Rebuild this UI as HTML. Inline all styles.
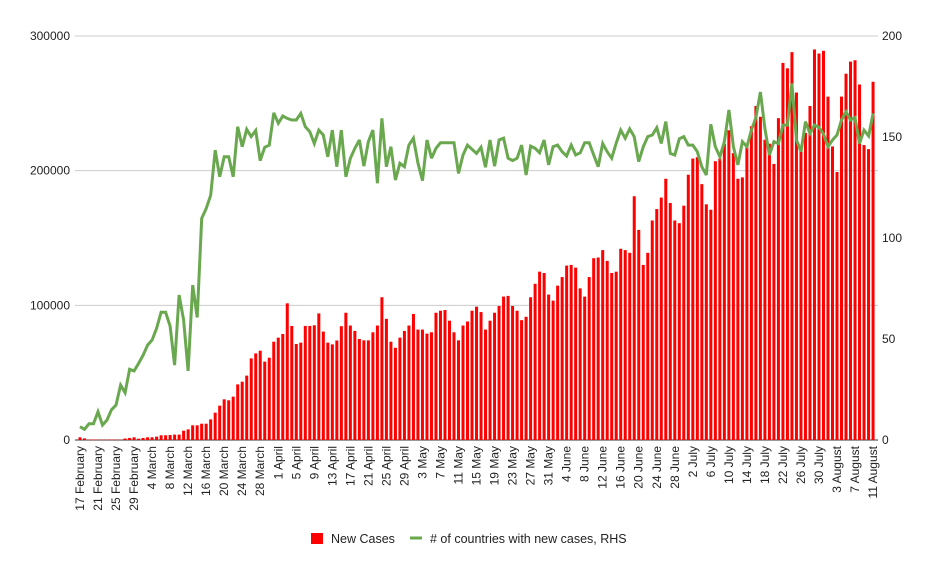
<!DOCTYPE html>
<html><head><meta charset="utf-8">
<style>
body{margin:0;background:#fff;}
svg{display:block;font-family:"Liberation Sans",Arial,sans-serif;}
</style></head>
<body>
<svg id="chart" width="932" height="574" viewBox="0 0 932 574" xmlns="http://www.w3.org/2000/svg">
<g id="grid"></g>
<g id="bars"></g>
<g id="line"></g>
<g id="axes"></g>
<g>
  <rect x="311" y="533" width="12" height="11" fill="#ff0000"/>
  <text x="331" y="543" font-size="12.5" fill="#222">New Cases</text>
  <rect x="410" y="536.5" width="12" height="3" fill="#6aa84f"/>
  <text x="430" y="543" font-size="12.5" fill="#222"># of countries with new cases, RHS</text>
</g>
</svg>
<script>
const startDate = [2020, 1, 17];
const cases = [2,1.2,0.3,0.3,0.3,0.3,0.3,0.3,0.3,0.3,1.1,1.5,2,
1,1.5,2,2,2.5,3.5,3.5,3.7,4,4,6.9,7.9,10.9,10.9,12.1,12.1,15.3,20.3,25.5,30.2,29.5,32.2,41.3,43.3,47.8,60.6,64.3,66.3,58.2,61.1,73,
76,78.7,101.5,84.7,71.3,72.3,84.7,84.7,85.2,94,80.5,72.3,71,73.9,84.5,94.5,85,81,75,74,74,80,85,106,90,73,68.5,76,81,85,
93.6,82,82,79,80,94.5,96,96.5,88.6,80,74,85,88,96,99,95,82,88.6,94.5,99.5,106.5,107,99.5,96,89,91.5,106,116,125,124,108,
103.5,114.6,121,129.5,130,128,112.6,106.5,121,135,135.5,141,133,124,125,142,141,139,181,156,130,139,163,171.5,180,194,176,163,161,174,
197,209,210,190,175,171,207,209,220,230,213,194,195,218,233,248,240,223,220,205,239,280,276,288,258,218,228,248,290,287,289,
255,218,199,255,272,281,282,264,219,216,266];
const countries = [6.6,5.3,8,8,14,7.4,9.9,15,17.3,27.2,23.4,35,34.2,37.9,42,47,49.5,55.3,63.2,63.2,56.4,37.1,71.8,59.4,34.2,76.7,60.7,109.7,114.6,121.2,143.5,130.3,140.2,140.2,130.3,155.1,145.2,153.8,150.2,153.2,138.3,144.9,146,162,156.8,160.4,159.2,158.4,158.4,161.7,155.1,152.6,146.8,153.4,151,140.2,153.4,135.3,153.4,130.3,
139.5,144.4,148.5,135.6,147.7,153.4,127.1,159.2,135.3,145.2,128.7,137,135.3,146,149.4,137,128.4,148.5,139.5,144.4,147.2,147.2,147.2,147.2,132,141.1,146,143.9,141.9,144.9,135,148.5,135.6,148.5,149.4,139.5,138.3,139.5,146,131.2,145.5,144.4,142.2,148.5,136.2,145.2,146,142.7,140.6,146,141.1,142.2,147.2,147.2,141.1,135.3,146.8,142.7,139.5,147,
153.4,149.4,154,150.2,137.8,145.2,150.2,151,154.6,146.8,157.6,141.9,141.1,149.1,150.2,146,146,142.7,135.3,131.2,156.3,145.2,140.2,147.7,163.4,145.2,136.2,147.7,145.2,153.4,159.6,172.3,154.2,141.1,147.7,146.8,155.9,155.9,176.5,148.5,142.7,157.6,151.8,155.9,154.8,151.5,145.2,148.5,151,158.4,162.5,158.4,159.6,146.8,153.4,150.5,161.7];
const leftTicks = [0,100000,200000,300000];
const rightTicks = [0,50,100,150,200];
const monthNames = ["January","February","March","April","May","June","July","August"];

const NS="http://www.w3.org/2000/svg";
const X0=80, DX=4.506, Y0=440, YT=36;
const xPos=i=>X0+DX*i;
const yL=v=>Y0-(v/300000)*(Y0-YT);
const yR=v=>Y0-(v/200)*(Y0-YT);
function mk(tag,attrs,parent){const e=document.createElementNS(NS,tag);for(const k in attrs)e.setAttribute(k,attrs[k]);parent.appendChild(e);return e;}
const grid=document.getElementById('grid'), bars=document.getElementById('bars'), line=document.getElementById('line'), axes=document.getElementById('axes');

leftTicks.forEach(t=>{
  const y=yL(t);
  const g=mk('line',{x1:75,x2:878,y1:y,y2:y,stroke:t===0?'#333':'#ccc','stroke-width':1},grid);
  
  
  const tx=mk('text',{x:70,y:y+4,'text-anchor':'end','font-size':12,fill:'#222'},axes);
  tx.textContent=String(t);
  
  
});
rightTicks.forEach(t=>{
  const y=yR(t);
  const tx=mk('text',{x:882,y:y+4,'text-anchor':'start','font-size':12,fill:'#222'},axes);
  tx.textContent=String(t);
  
  
});

cases.forEach((v,i)=>{
  const val=v*1000, y=yL(val);
  const r=mk('rect',{x:xPos(i)-1.5,y:y,width:3,height:Math.max(Y0-y,0.5),fill:'#ff0000'},bars);
  
  
});

const pts=countries.map((v,i)=>xPos(i).toFixed(1)+','+yR(v).toFixed(1)).join(' ');
const pl=mk('polyline',{points:pts,fill:'none',stroke:'#6aa84f','stroke-width':3,'stroke-linejoin':'miter','stroke-miterlimit':3},line);



for(let i=0;i<cases.length;i+=4){
  const d=new Date(startDate[0],startDate[1],startDate[2]+i);
  const label=d.getDate()+' '+monthNames[d.getMonth()];
  const x=xPos(i)+4;
  const tx=mk('text',{x:x,y:446,transform:'rotate(-90 '+x+' 446)','text-anchor':'end','font-size':12,fill:'#222'},axes);
  tx.textContent=label;
  
  
}
</script>
</body></html>
